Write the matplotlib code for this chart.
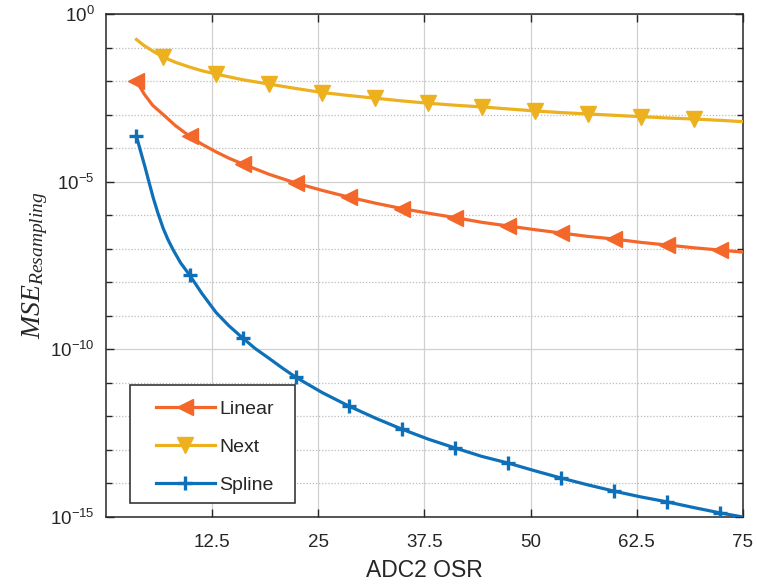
import matplotlib
matplotlib.use("Agg")
import matplotlib.pyplot as plt
from matplotlib.patches import Rectangle
from matplotlib.ticker import LogLocator, FixedLocator, NullFormatter

plt.rcParams["font.family"] = ["Liberation Sans", "DejaVu Sans"]
plt.rcParams["mathtext.fontset"] = "custom"
plt.rcParams["mathtext.rm"] = "Liberation Sans"
plt.rcParams["mathtext.it"] = "Liberation Serif:italic"

# Linear interpolation error vs. oversampling ratio
osr_linear = [3.6, 4.5, 5.5, 6.725, 8.2, 9.85, 11.3, 12.975, 14.5, 16.1,
              19.225, 22.35, 25.475, 28.6, 31.725, 34.85, 37.975, 41.1,
              44.225, 47.35, 50.475, 53.6, 56.725, 59.85, 62.975, 66.1,
              69.225, 72.35, 75.0]
mse_linear = [1.0e-2, 4.17e-3, 1.91e-3, 1.02e-3, 4.68e-4, 2.29e-4, 1.32e-4,
              7.76e-5, 5.01e-5, 3.39e-5, 1.66e-5, 9.12e-6, 5.50e-6, 3.47e-6,
              2.29e-6, 1.58e-6, 1.15e-6, 8.51e-7, 6.17e-7, 4.79e-7, 3.72e-7,
              2.95e-7, 2.34e-7, 1.95e-7, 1.55e-7, 1.29e-7, 1.07e-7, 9.12e-8,
              7.94e-8]

# Next-neighbour error
osr_next = [3.6, 4.5, 5.5, 6.725, 8.2, 9.85, 11.3, 12.975, 16.1, 19.225,
            22.35, 25.475, 28.6, 31.725, 34.85, 37.975, 41.1, 44.225, 47.35,
            50.475, 53.6, 56.725, 59.85, 62.975, 66.1, 69.225, 72.35, 75.0]
mse_next = [1.74e-1, 1.15e-1, 7.94e-2, 5.25e-2, 3.63e-2, 2.63e-2, 2.04e-2,
            1.62e-2, 1.10e-2, 8.13e-3, 6.03e-3, 4.57e-3, 3.72e-3, 3.09e-3,
            2.57e-3, 2.19e-3, 1.91e-3, 1.70e-3, 1.48e-3, 1.29e-3, 1.15e-3,
            1.05e-3, 9.55e-4, 8.71e-4, 7.94e-4, 7.41e-4, 6.76e-4, 6.17e-4]

# Spline error, falls steeply at low OSR
osr_spline = [3.6, 4.1, 4.6, 5.1, 5.6, 6.15, 6.75, 7.3, 7.9, 8.8, 9.85, 11.3,
              12.975, 14.5, 16.1, 17.6, 19.225, 20.8, 22.35, 25.475, 28.6,
              31.725, 34.85, 37.975, 41.1, 44.225, 47.35, 50.475, 53.6,
              56.725, 59.85, 62.975, 66.1, 69.225, 72.35, 75.0]
mse_spline = [2.29e-4, 7.94e-5, 2.82e-5, 9.33e-6, 3.16e-6, 1.12e-6, 4.07e-7,
              1.91e-7, 9.55e-8, 3.80e-8, 1.66e-8, 4.68e-9, 1.26e-9, 5.01e-10,
              2.19e-10, 1.05e-10, 5.37e-11, 2.75e-11, 1.48e-11, 5.13e-12,
              2.04e-12, 8.91e-13, 4.17e-13, 2.09e-13, 1.15e-13, 6.46e-14,
              4.07e-14, 2.40e-14, 1.45e-14, 9.12e-15, 5.89e-15, 3.98e-15,
              2.82e-15, 1.91e-15, 1.32e-15, 1.0e-15]

# OSR values that carry a marker on each curve
mark_x_linear = [3.6, 9.85, 16.1, 22.35, 28.6, 34.85, 41.1, 47.35, 53.6,
                 59.85, 66.1, 72.35]
mark_x_next = [6.725, 12.975, 19.225, 25.475, 31.725, 37.975, 44.225,
               50.475, 56.725, 62.975, 69.225]
mark_x_spline = [3.6, 9.85, 16.1, 22.35, 28.6, 34.85, 41.1, 47.35, 53.6,
                 59.85, 66.1, 72.35]

x_ticks = [12.5, 25, 37.5, 50, 62.5, 75]
x_tick_labels = ["12.5", "25", "37.5", "50", "62.5", "75"]
y_ticks = [1e-15, 1e-10, 1e-5, 1e0]
y_tick_labels = [r"$\mathregular{10^{-15}}$", r"$\mathregular{10^{-10}}$",
                 r"$\mathregular{10^{-5}}$", r"$\mathregular{10^{0}}$"]

c_linear = "#F4672B"
c_next = "#EDB120"
c_spline = "#0E70B8"
dark = "#262626"

fig = plt.figure(figsize=(7.57, 5.85), dpi=100)
ax = fig.add_axes([0.1398, 0.1162, 0.8417, 0.8598])

lw = 2.3
ax.plot(osr_linear, mse_linear, color=c_linear, lw=lw, marker="<", ms=11,
        markevery=[osr_linear.index(v) for v in mark_x_linear],
        mfc=c_linear, mec=c_linear, label="Linear", zorder=3)
ax.plot(osr_next, mse_next, color=c_next, lw=lw, marker="v", ms=11,
        markevery=[osr_next.index(v) for v in mark_x_next],
        mfc=c_next, mec=c_next, label="Next", zorder=3)
ax.plot(osr_spline, mse_spline, color=c_spline, lw=lw, marker="+", ms=10,
        mew=2.4, markevery=[osr_spline.index(v) for v in mark_x_spline],
        label="Spline", zorder=3)

ax.set_yscale("log")
ax.set_xlim(0, 75)
ax.set_ylim(1e-15, 1e0)

ax.xaxis.set_major_locator(FixedLocator(x_ticks))
ax.set_xticklabels(x_tick_labels)
ax.yaxis.set_major_locator(FixedLocator(y_ticks))
ax.set_yticklabels(y_tick_labels)
ax.yaxis.set_minor_locator(LogLocator(base=10, subs=(1.0,), numticks=40))
ax.yaxis.set_minor_formatter(NullFormatter())

ax.tick_params(which="both", direction="in", top=True, right=True,
               color=dark, width=1.0)
ax.tick_params(which="major", length=6, labelsize=13.5, labelcolor=dark)
ax.tick_params(axis="x", which="major", pad=12)
ax.tick_params(axis="y", which="major", pad=8)
ax.tick_params(which="minor", length=4)

ax.grid(True, which="major", color="#d0d0d0", lw=0.9, ls="-")
ax.grid(True, which="minor", axis="y", color="#bcbcbc", lw=0.9, ls=(0, (1, 1.5)))
ax.set_axisbelow(True)

for sp in ax.spines.values():
    sp.set_color(dark)
    sp.set_linewidth(1.1)

ax.set_xlabel("ADC2 OSR", fontsize=16.5, color=dark, labelpad=6)
ax.set_ylabel(r"$\mathit{MSE}_{\mathit{Resampling}}$", fontsize=20,
              color=dark, labelpad=0)

# Legend: square black frame, entries centred inside it
box_x, box_y, box_w, box_h = 0.038, 0.028, 0.259, 0.2346
ax.add_patch(Rectangle((box_x, box_y), box_w, box_h, transform=ax.transAxes,
                       facecolor="white", edgecolor=dark, lw=1.1, zorder=4))
leg = ax.legend(loc="center", bbox_to_anchor=(box_x + box_w / 2 + 0.004,
                                              box_y + box_h / 2 - 0.006),
                fontsize=14, frameon=False, handlelength=3.0,
                handletextpad=0.25, labelspacing=1.05, borderpad=0,
                borderaxespad=0)
leg.set_zorder(5)
for t in leg.get_texts():
    t.set_color(dark)

fig.savefig("out.png", dpi=100)
